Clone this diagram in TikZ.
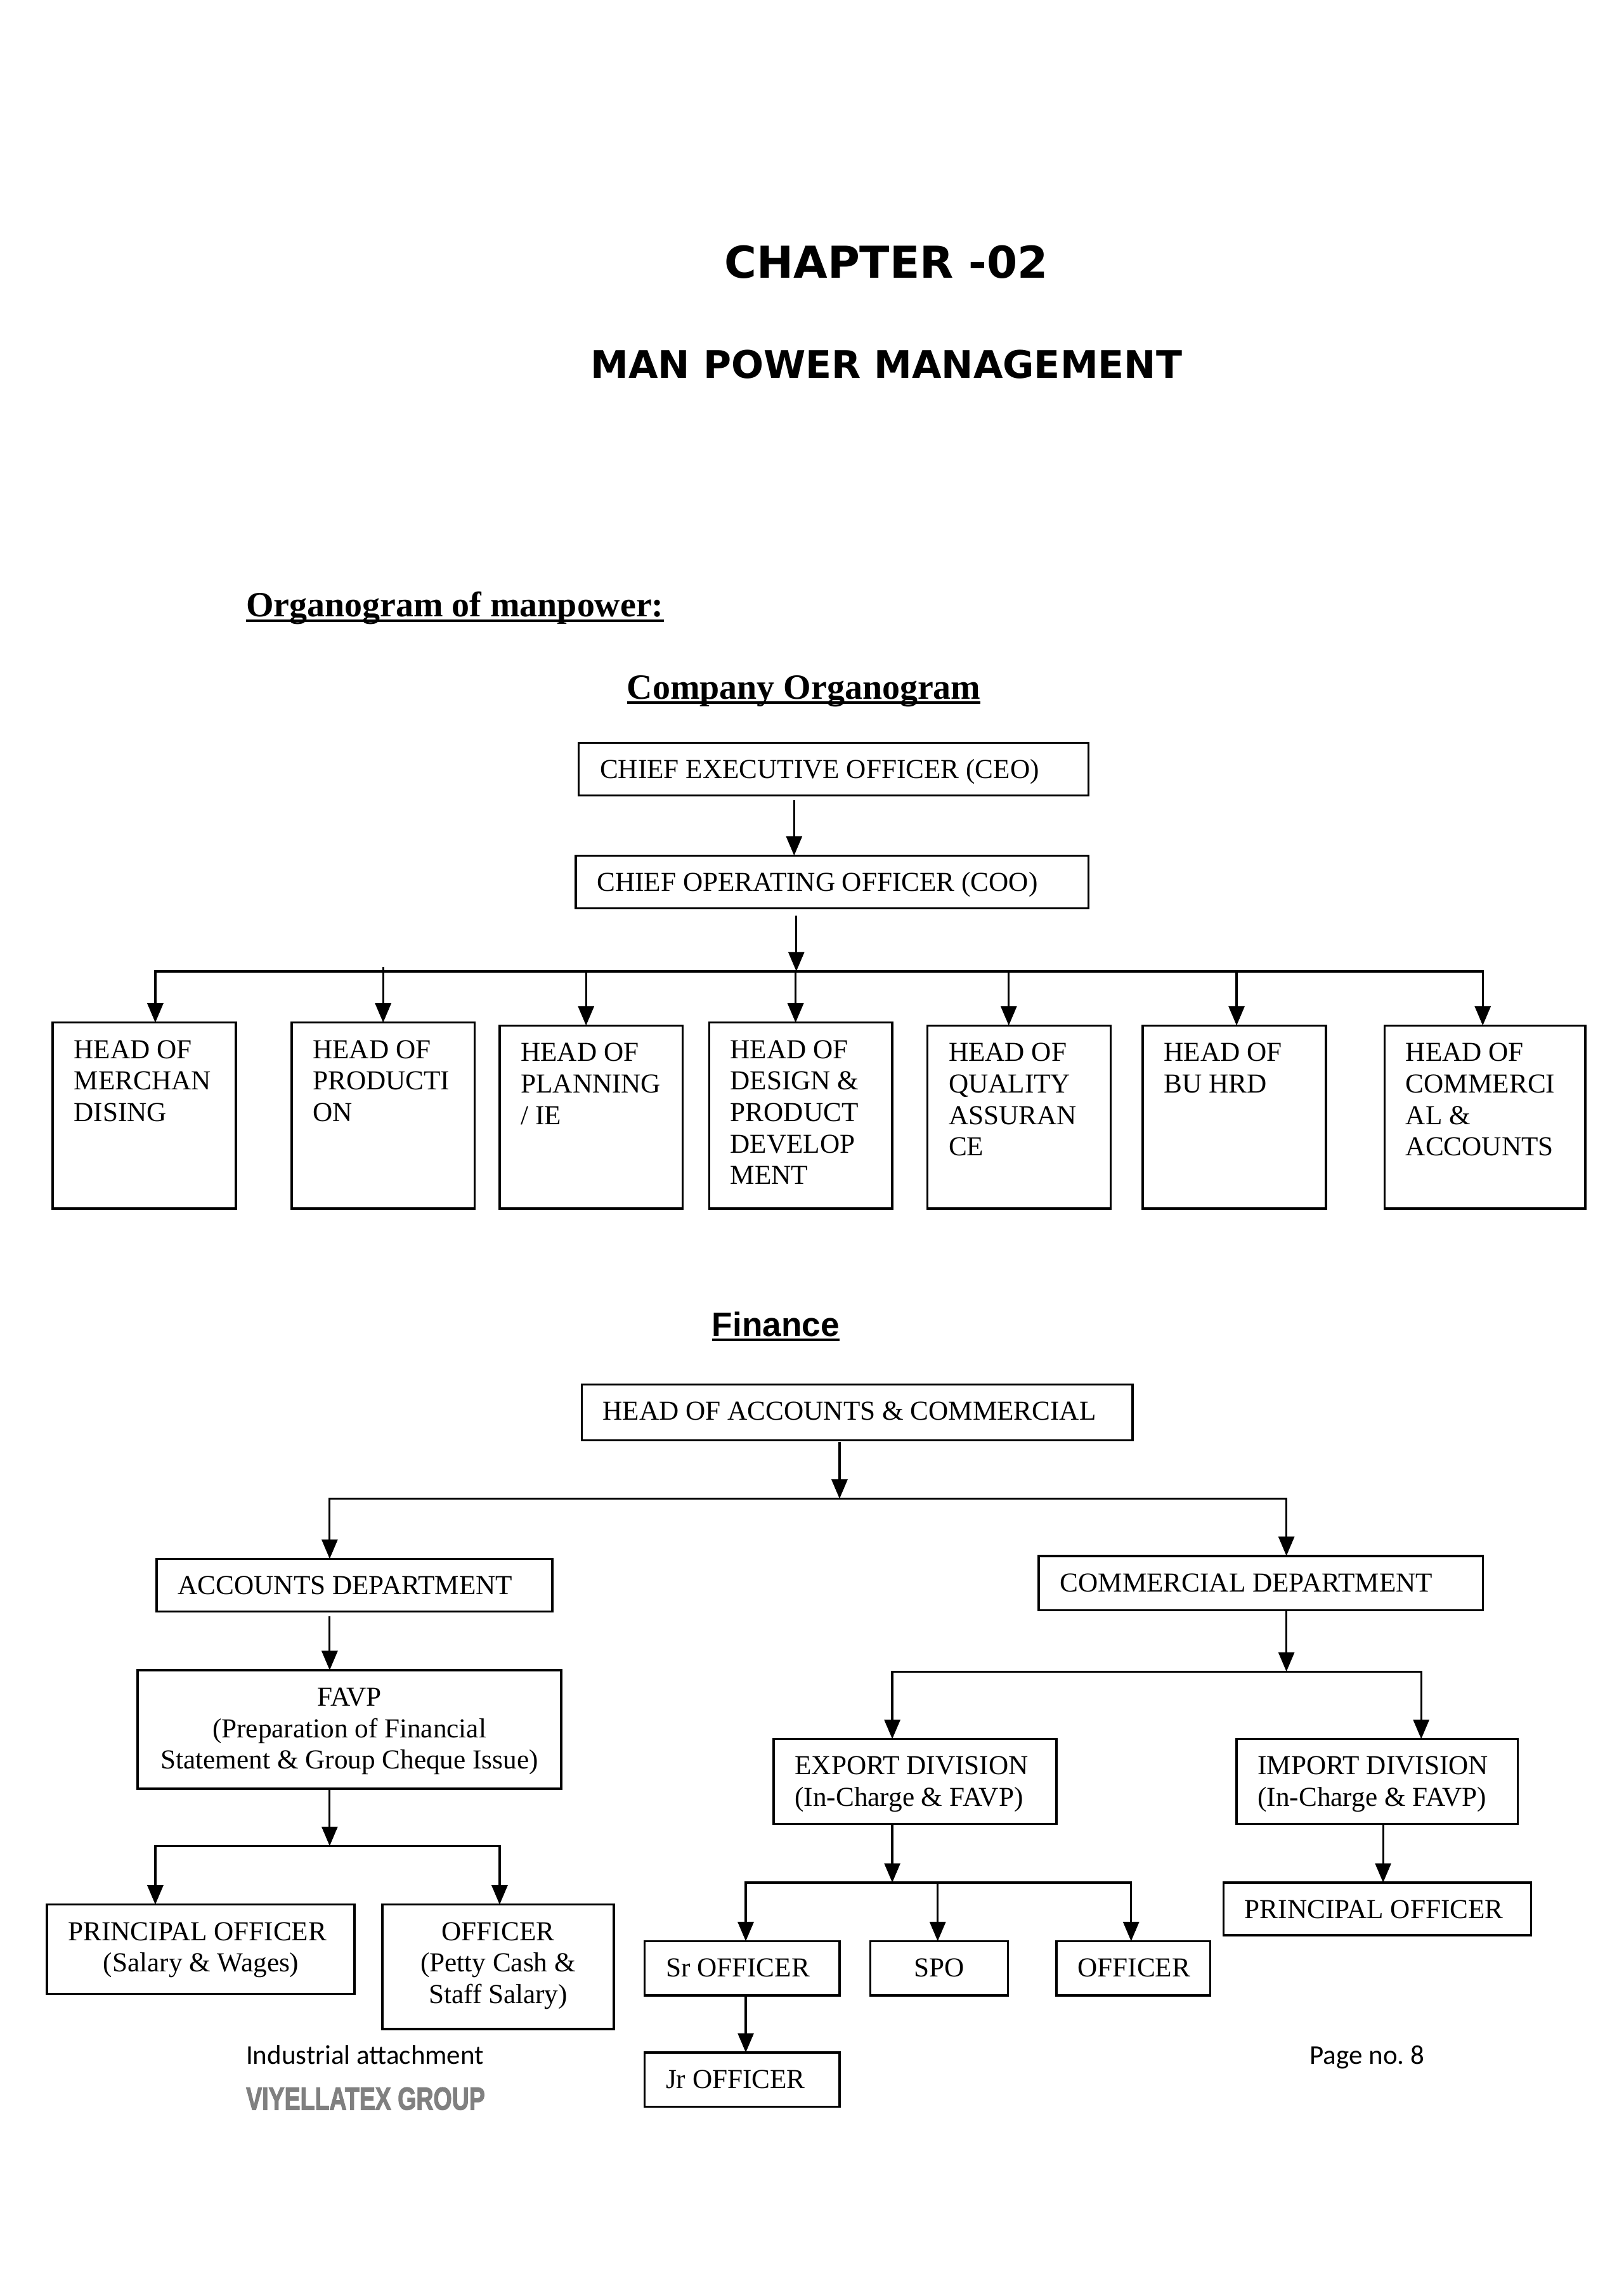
\documentclass[tikz,border=0pt]{standalone}
\usepackage{fontspec}
\setmainfont{Liberation Serif}
\newfontfamily\arialf{Liberation Sans}
\newfontfamily\dejaf{DejaVu Sans}
\newfontfamily\calf{Carlito}
\newfontfamily\viyf[FakeBold=2.5]{Liberation Sans Bold}
\usetikzlibrary{arrows.meta}
\tikzset{
  orgbox/.style={draw=black,line width=0.75pt,rectangle,anchor=north west,inner xsep=7.25pt,inner ysep=0pt,outer sep=0pt,font=\fontsize{9.35}{10.75}\selectfont},
  wire/.style={draw=black,line width=0.75pt,line cap=rect},
  arr/.style={draw=black,line width=0.7pt,-{Triangle[length=6.6pt,width=5.4pt]},shorten >=0pt},
  lab/.style={anchor=base west,inner sep=0pt,outer sep=0pt},
  clab/.style={anchor=base,inner sep=0pt,outer sep=0pt}
}
\newcommand\ulin[1]{\setbox0=\hbox{#1}\rlap{\rule[-1.7pt]{\wd0}{0.85pt}}\box0 }
\newcommand\orgnode[7]{%
  \pgfmathsetlengthmacro\orgW{(#4-#2)*0.5pt-14.5pt}%
  \pgfmathsetlengthmacro\orgH{(#5-#3)*0.5pt}%
  \node[orgbox] (#1) at (#2,#3) {\parbox[c][\orgH][t]{\orgW}{#6\baselineskip=10.75pt\rule{0pt}{12.2pt}#7}};%
}
% connector from a node straight down to another node at column x
\newcommand\linkdown[3]{%
  \coordinate (lk) at (#3,0);
  \draw[arr] ([yshift=-1.5pt]lk |- #1.south) -- (lk |- #2.north);%
}
% drop from a horizontal bus (named coordinate) to a node at column x
\newcommand\busdrop[3]{%
  \coordinate (lk) at (#3,0);
  \draw[arr] (lk |- #1) -- (lk |- #2.north);%
}
\begin{document}
\begin{tikzpicture}[x=0.5pt,y=-0.5pt]
\useasboundingbox (0,0) rectangle (1108,1567.2);
\fill[white] (0,0) rectangle (1108,1567.2);

% titles
\node[clab,font=\dejaf\bfseries\fontsize{15}{18}\selectfont] (chap) at (605,190) {CHAPTER -02};
\node[clab,font=\dejaf\bfseries\fontsize{13}{16}\selectfont] (manp) at (605,258) {MAN POWER MANAGEMENT};
\node[lab,font=\bfseries\fontsize{12.1}{14}\selectfont] (orgt) at (168,421) {\ulin{Organogram of manpower:}};
\node[lab,font=\bfseries\fontsize{12.1}{14}\selectfont] (comt) at (428,477) {\ulin{Company Organogram}};
\node[lab,font=\arialf\bfseries\fontsize{11.5}{14}\selectfont] (fint) at (486,912) {\ulin{Finance}};

% company boxes
\orgnode{ceo}{395}{507}{743}{543}{\raggedright}{CHIEF EXECUTIVE OFFICER (CEO)}
\orgnode{coo}{393}{584}{743}{620}{\raggedright}{CHIEF OPERATING OFFICER (COO)}
\orgnode{h1}{36}{698}{161}{825}{\raggedright}{HEAD OF\\MERCHAN\\DISING}
\orgnode{h2}{199}{698}{324}{825}{\raggedright}{HEAD OF\\PRODUCTI\\ON}
\orgnode{h3}{341}{700}{466}{825}{\raggedright}{HEAD OF\\PLANNING\\/ IE}
\orgnode{h4}{484}{698}{609}{825}{\raggedright}{HEAD OF\\DESIGN \&\\PRODUCT\\DEVELOP\\MENT}
\orgnode{h5}{633}{700}{758}{825}{\raggedright}{HEAD OF\\QUALITY\\ASSURAN\\CE}
\orgnode{h6}{780}{700}{905}{825}{\raggedright}{HEAD OF\\BU HRD}
\orgnode{h7}{945}{700}{1082}{825}{\raggedright}{HEAD OF\\COMMERCI\\AL \&\\ACCOUNTS}

% company connectors
\linkdown{ceo}{coo}{542}
\coordinate (cbus) at (0,663);
\coordinate (cooin) at (543.5,0);
\draw[arr] ([yshift=-2.5pt]cooin |- coo.south) -- (cooin |- cbus);
\coordinate (cbl) at (106,663);
\coordinate (cbr) at (1012,663);
\draw[wire] (cbl) -- (cbr);
\busdrop{cbus}{h1}{106}
\coordinate (tick) at (261.5,660);
\draw[arr] (tick) -- (tick |- h2.north);
\busdrop{cbus}{h3}{400}
\busdrop{cbus}{h4}{543}
\busdrop{cbus}{h5}{688.5}
\busdrop{cbus}{h6}{844}
\busdrop{cbus}{h7}{1012}

% finance boxes
\orgnode{hac}{397}{945}{773}{983}{\raggedright}{HEAD OF ACCOUNTS \& COMMERCIAL}
\orgnode{acc}{107}{1064}{377}{1100}{\raggedright}{ACCOUNTS DEPARTMENT}
\orgnode{com}{709}{1062}{1012}{1099}{\raggedright}{COMMERCIAL DEPARTMENT}
\orgnode{favp}{94}{1140}{383}{1221}{\centering}{FAVP\\(Preparation of Financial\\Statement \& Group Cheque Issue)}
\orgnode{prin}{32}{1300}{242}{1361}{\raggedright}{PRINCIPAL OFFICER\\\hspace*{12pt}(Salary \& Wages)}
\orgnode{offa}{261}{1300}{419}{1385}{\centering}{OFFICER\\(Petty Cash \&\\Staff Salary)}
\orgnode{exd}{528}{1187}{721}{1245}{\raggedright}{EXPORT DIVISION\\(In-Charge \& FAVP)}
\orgnode{imd}{844}{1187}{1036}{1245}{\raggedright}{IMPORT DIVISION\\(In-Charge \& FAVP)}
\orgnode{sro}{440}{1325}{573}{1362}{\raggedright}{Sr OFFICER}
\orgnode{spo}{594}{1325}{688}{1362}{\centering}{SPO}
\orgnode{offb}{721}{1325}{826}{1362}{\raggedright}{OFFICER}
\orgnode{jro}{440}{1401}{573}{1438}{\raggedright}{Jr OFFICER}
\orgnode{prb}{835}{1285}{1045}{1321}{\raggedright}{PRINCIPAL OFFICER}

% finance connectors
\coordinate (b1) at (0,1023);
\coordinate (b1x) at (573,0);
\draw[arr] ([yshift=-0.5pt]b1x |- hac.south) -- (b1x |- b1);
\coordinate (b1l) at (225,1023);
\coordinate (b1r) at (878,1023);
\draw[wire] (b1l) -- (b1r);
\busdrop{b1}{acc}{225}
\busdrop{b1}{com}{878}
\linkdown{acc}{favp}{225}

\coordinate (b2) at (0,1260);
\coordinate (b2x) at (225,0);
\draw[arr] (b2x |- favp.south) -- (b2x |- b2);
\coordinate (b2l) at (106,1260);
\coordinate (b2r) at (341,1260);
\draw[wire] (b2l) -- (b2r);
\busdrop{b2}{prin}{106}
\busdrop{b2}{offa}{341}

\coordinate (b3) at (0,1141);
\coordinate (b3x) at (878,0);
\draw[arr] (b3x |- com.south) -- (b3x |- b3);
\coordinate (b3l) at (609,1141);
\coordinate (b3r) at (970,1141);
\draw[wire] (b3l) -- (b3r);
\busdrop{b3}{exd}{609}
\busdrop{b3}{imd}{970}

\coordinate (b4) at (0,1285);
\coordinate (b4x) at (609,0);
\draw[arr] (b4x |- exd.south) -- (b4x |- b4);
\coordinate (b4l) at (509,1285);
\coordinate (b4r) at (772,1285);
\draw[wire] (b4l) -- (b4r);
\busdrop{b4}{sro}{509}
\busdrop{b4}{spo}{640}
\busdrop{b4}{offb}{772}

\coordinate (sx) at (509,0);
\draw[arr] (sx |- sro.south) -- (sx |- jro.north);
\coordinate (ix) at (944,0);
\draw[arr] (ix |- imd.south) -- (ix |- prb.north);

% footer
\node[lab,font=\calf\fontsize{9.3}{11}\selectfont] (ind) at (168,1409) {Industrial attachment};
\node[lab,font=\calf\fontsize{9.3}{11}\selectfont] (pg) at (894,1409) {\frenchspacing Page no. 8};
\node[lab,text=black!50] (viy) at (168,1440) {\resizebox{81.5pt}{7.6pt}{\viyf VIYELLATEX GROUP}};
\end{tikzpicture}
\end{document}
